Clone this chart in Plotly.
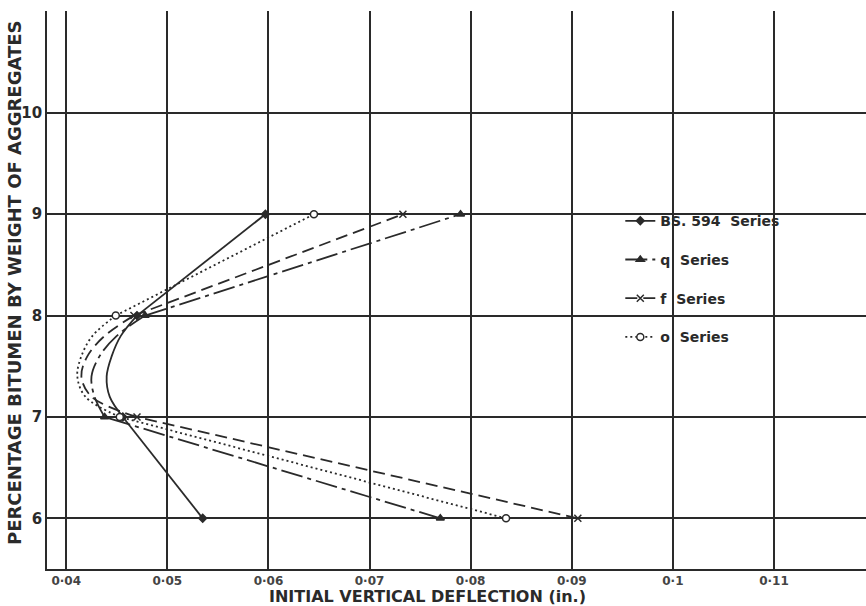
import plotly.graph_objects as go

# Measured points: percentage bitumen (y) and initial deflection (x, in.)
POINT_Y = [6, 7, 8, 9]
BS594_P = [0.0535, 0.0456, 0.0470, 0.0597]
Q_P     = [0.0770, 0.0438, 0.0478, 0.0790]
F_P     = [0.0906, 0.0470, 0.0467, 0.0733]
O_P     = [0.0835, 0.0453, 0.0449, 0.0645]

# Hand-fitted curve between 7 % and 8 %: intermediate bitumen levels and deflections
MID_Y   = [7.2, 7.4, 7.6, 7.8]
BS594_M = [0.0443, 0.0440, 0.0445, 0.0454]
Q_M     = [0.0428, 0.0425, 0.0433, 0.0450]
F_M     = [0.0425, 0.0415, 0.0421, 0.0438]
O_M     = [0.0419, 0.0411, 0.0415, 0.0426]

SERIES_NAMES = ["BS. 594  Series", "q  Series", "f  Series", "o  Series"]
X_TICKS = [0.04, 0.05, 0.06, 0.07, 0.08, 0.09, 0.10, 0.11]
X_TICK_LABELS = ["0·04", "0·05", "0·06", "0·07", "0·08", "0·09", "0·1", "0·11"]
Y_TICKS = [6, 7, 8, 9, 10, 11]
Y_TICK_LABELS = ["6", "7", "8", "9", "10", ""]

INK = "#2a2a2a"
styles = [
    dict(dash="solid", symbol="diamond", size=6, fill=INK),
    dict(dash="22px,5px,4px,5px", symbol="triangle-up", size=7, fill=INK),
    dict(dash="12px,6px", symbol="x-thin", size=7, fill=INK),
    dict(dash="2px,3px", symbol="circle", size=7, fill="white"),
]

fig = go.Figure()
for i, (name, p, m, st) in enumerate(zip(SERIES_NAMES, [BS594_P, Q_P, F_P, O_P],
                                         [BS594_M, Q_M, F_M, O_M], styles)):
    line = dict(color=INK, width=1.8, dash=st["dash"])
    # straight segments 6-7 and 8-9
    fig.add_trace(go.Scatter(x=p[0:2], y=POINT_Y[0:2], mode="lines", showlegend=False,
                             line=line, hoverinfo="skip"))
    fig.add_trace(go.Scatter(x=p[2:4], y=POINT_Y[2:4], mode="lines", showlegend=False,
                             line=line, hoverinfo="skip"))
    # curved part 7-8
    fig.add_trace(go.Scatter(x=[p[1]] + m + [p[2]], y=[POINT_Y[1]] + MID_Y + [POINT_Y[2]],
                             mode="lines", showlegend=False,
                             line=dict(line, shape="spline", smoothing=1.0), hoverinfo="skip"))
    marker = dict(symbol=st["symbol"], size=st["size"], color=st["fill"],
                  line=dict(color=INK, width=1.5))
    fig.add_trace(go.Scatter(x=p, y=POINT_Y, mode="markers", showlegend=False, marker=marker))
    fig.add_trace(go.Scatter(x=[None], y=[None], mode="lines+markers", name=name,
                             legendgroup=f"g{i}", line=line, marker=marker))

fig.update_layout(
    width=866, height=606,
    margin=dict(l=47, r=0, t=11, b=37),
    paper_bgcolor="white", plot_bgcolor="white",
    font=dict(family="DejaVu Sans", color=INK),
    legend=dict(x=0.70, y=0.652, xanchor="left", yanchor="top",
                bgcolor="rgba(0,0,0,0)", tracegroupgap=17.5,
                font=dict(size=14, color=INK, weight="bold")),
    xaxis=dict(range=[0.0381, 0.1191], tickvals=X_TICKS, ticktext=X_TICK_LABELS,
               showgrid=True, gridcolor=INK, gridwidth=1.7, zeroline=False,
               showline=True, linecolor=INK, linewidth=1.7, ticks="",
               tickfont=dict(size=12, color="#444", weight="bold"), ticklabelstandoff=0),
    yaxis=dict(range=[5.5, 11.005], tickvals=Y_TICKS, ticktext=Y_TICK_LABELS,
               showgrid=True, gridcolor=INK, gridwidth=1.7, zeroline=False,
               showline=True, linecolor=INK, linewidth=1.7, ticks="",
               tickfont=dict(size=15, color=INK, weight="bold")),
    annotations=[
        dict(text="<b>INITIAL VERTICAL DEFLECTION (in.)</b>",
             xref="paper", yref="paper", x=0.464, y=0, yshift=-27,
             xanchor="center", yanchor="middle", showarrow=False,
             font=dict(size=16, color=INK)),
        dict(text="<b>PERCENTAGE BITUMEN BY WEIGHT OF AGGREGATES</b>",
             xref="paper", yref="paper", x=0, xshift=-33, y=0.5125,
             xanchor="center", yanchor="middle", textangle=-90, showarrow=False,
             font=dict(size=18, color=INK)),
    ],
)

fig.write_html("out.html")
